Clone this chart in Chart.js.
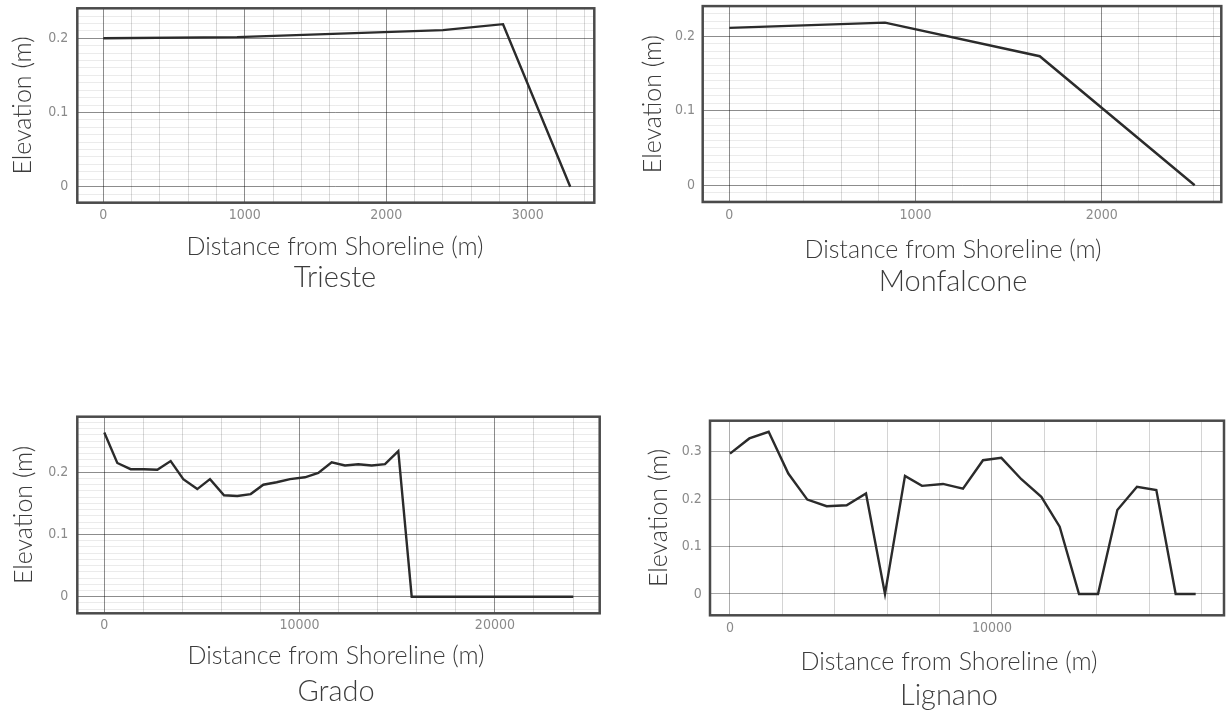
<!DOCTYPE html>
<html>
<head>
<meta charset="utf-8">
<title>Elevation profiles</title>
<script src="https://cdn.jsdelivr.net/npm/chart.js@4.4.1/dist/chart.umd.min.js"></script>
<style>
  html, body { margin: 0; padding: 0; background: #fff; overflow: hidden; }
  body { width: 1226px; height: 715px; position: relative; }
  canvas { position: absolute; }
</style>
</head>
<body>
<script>
// values (distance from shoreline in m, elevation in m)
const triesteDistance = [0, 945, 2400, 2825, 3300];
const triesteElevation = [0.200, 0.2015, 0.211, 0.219, 0];

const monfalconeDistance = [0, 836, 1667, 2499];
const monfalconeElevation = [0.211, 0.218, 0.173, 0];

const gradoDistance = [0, 666, 1350, 2033, 2714, 3398, 4045, 4762, 5412, 6129, 6810, 7496, 8141,
  8827, 9508, 10276, 10957, 11643, 12325, 13006, 13691, 14373, 15054, 15740, 24014];
const gradoElevation = [0.264, 0.215, 0.205, 0.205, 0.204, 0.218, 0.189, 0.173, 0.189, 0.163, 0.162, 0.165, 0.180,
  0.184, 0.189, 0.192, 0.199, 0.216, 0.211, 0.213, 0.211, 0.213, 0.234, 0, 0];

const lignanoDistance = [0, 738, 1476, 2226, 2951, 3689, 4453, 5191, 5916, 6679, 7328, 8130, 8893,
  9657, 10356, 11120, 11883, 12583, 13321, 14046, 14784, 15534, 16272, 17010, 17774];
const lignanoElevation = [0.296, 0.328, 0.342, 0.254, 0.199, 0.185, 0.187, 0.212, 0, 0.249, 0.228, 0.232, 0.222,
  0.282, 0.287, 0.242, 0.205, 0.142, 0, 0, 0.177, 0.226, 0.219, 0, 0];

// labelled ticks
const triesteDistanceTicks = [0, 1000, 2000, 3000];
const monfalconeDistanceTicks = [0, 1000, 2000];
const gradoDistanceTicks = [0, 10000, 20000];
const lignanoDistanceTicks = [0, 10000];
const elevationTicks = [0, 0.1, 0.2];
const lignanoElevationTicks = [0, 0.1, 0.2, 0.3];

const TEXT_FONT = "Lato, 'Open Sans', sans-serif";
const TICK_FONT = "'DejaVu Sans Condensed', 'DejaVu Sans', sans-serif";
const TEXT_COLOR = '#3c3c3c';
const TICK_COLOR = '#8a8a8a';

function near(list, v) {
  return list.find(l => Math.abs(l - v) < 1e-6);
}

// ticks on every multiple of the step inside the axis range
function stepTicks(min, max, step) {
  const out = [];
  for (let k = Math.ceil(min / step - 1e-9); k * step <= max + 1e-9; k++) {
    out.push({ value: Math.round(k * step * 1e6) / 1e6 });
  }
  return out;
}

// dark frame round the plot area
const framePlugin = {
  id: 'frame',
  afterDatasetsDraw(chart) {
    const a = chart.chartArea, ctx = chart.ctx;
    ctx.save();
    ctx.strokeStyle = '#4a4a4a';
    ctx.lineWidth = 2.5;
    ctx.strokeRect(a.left, a.top, a.right - a.left, a.bottom - a.top);
    ctx.restore();
  }
};

function drawProfile(p) {
  const tickSize = 14, tickLH = tickSize * 1.2;
  const axisSize = 25, axisLH = axisSize * 1.2;
  const nameSize = 29, nameLH = nameSize * 1.2;
  const a = p.area;

  // work out the boxes so the plot area lands where the figure has it
  const titleSpan = 2 * (p.centerX - p.left);       // titles are centred on this span
  const extraRight = titleSpan - (a.right - p.left); // empty box right of the plot
  const W = Math.ceil(titleSpan) + 2;
  const padR = W - titleSpan;
  const hx = p.tickY + tickLH / 2 + 2 - a.bottom;
  const tickPad = p.tickY - a.bottom - tickLH / 2;
  const subPad = p.axisTitleY - (a.bottom + hx) - axisLH / 2;
  const subBottom = a.bottom + hx + subPad + axisLH;
  const namePad = p.nameY - subBottom - nameLH / 2;
  const used = subBottom + namePad + nameLH - p.top;
  const H = Math.ceil(used) + 4;
  const padB = H - used;
  const yWidth = a.left - p.left;
  const yTitlePad = (p.yTitleX - p.left) - axisLH / 2;

  const canvas = document.createElement('canvas');
  canvas.width = W;
  canvas.height = H;
  canvas.style.left = p.left + 'px';
  canvas.style.top = p.top + 'px';
  document.body.appendChild(canvas);

  new Chart(canvas.getContext('2d'), {
    type: 'line',
    data: {
      datasets: [{
        data: p.xs.map((x, i) => ({ x: x, y: p.ys[i] })),
        borderColor: '#2b2b2b',
        borderWidth: 2.4,
        pointRadius: 0,
        fill: false,
        tension: 0
      }]
    },
    options: {
      responsive: false,
      animation: false,
      layout: { padding: { left: 0, right: padR, top: a.top - p.top, bottom: padB } },
      scales: {
        x: {
          type: 'linear',
          min: p.xMin,
          max: p.xMax,
          border: { display: false },
          grid: {
            drawTicks: false,
            color: c => (c.tick && near(p.xLabels, c.tick.value) !== undefined) ? p.xMajor : p.xMinor
          },
          ticks: {
            autoSkip: false,
            maxRotation: 0,
            padding: tickPad,
            color: TICK_COLOR,
            font: { family: TICK_FONT, size: tickSize },
            callback: v => { const l = near(p.xLabels, v); return l === undefined ? '' : String(l); }
          },
          afterBuildTicks: s => { s.ticks = stepTicks(s.min, s.max, p.xStep); },
          afterFit: s => { s.height = hx; }
        },
        y: {
          type: 'linear',
          min: p.yMin,
          max: p.yMax,
          border: { display: false },
          grid: {
            drawTicks: false,
            color: c => (c.tick && near(p.yLabels, c.tick.value) !== undefined) ? p.yMajor : p.yMinor
          },
          ticks: {
            autoSkip: false,
            padding: a.left - p.yTickRight,
            color: TICK_COLOR,
            font: { family: TICK_FONT, size: tickSize },
            callback: v => { const l = near(p.yLabels, v); return l === undefined ? '' : String(l); }
          },
          afterBuildTicks: s => { s.ticks = stepTicks(s.min, s.max, p.yStep); },
          title: {
            display: true,
            text: 'Elevation (m)',
            color: TEXT_COLOR,
            font: { family: TEXT_FONT, size: axisSize, weight: '300' },
            padding: { top: yTitlePad, bottom: 0 }
          },
          afterFit: s => { s.width = yWidth; }
        },
        spacer: {
          axis: 'y',
          position: 'right',
          border: { display: false },
          grid: { display: false },
          ticks: { display: false },
          afterFit: s => { s.width = extraRight; }
        }
      },
      plugins: {
        legend: { display: false },
        tooltip: { enabled: false },
        subtitle: {
          display: true,
          position: 'bottom',
          text: 'Distance from Shoreline (m)',
          color: TEXT_COLOR,
          font: { family: TEXT_FONT, size: axisSize, weight: '300' },
          padding: { top: subPad, bottom: 0 }
        },
        title: {
          display: true,
          position: 'bottom',
          text: p.name,
          color: TEXT_COLOR,
          font: { family: TEXT_FONT, size: nameSize, weight: '300' },
          padding: { top: namePad, bottom: 0 }
        }
      }
    },
    plugins: [framePlugin]
  });
}

const fineGrid = {
  xMajor: 'rgba(0,0,0,0.45)', xMinor: 'rgba(0,0,0,0.15)',
  yMajor: 'rgba(0,0,0,0.45)', yMinor: 'rgba(0,0,0,0.08)'
};

drawProfile(Object.assign({
  name: 'Trieste', xs: triesteDistance, ys: triesteElevation,
  xLabels: triesteDistanceTicks, yLabels: elevationTicks,
  left: 0, top: -10, area: { left: 77.3, top: 8.3, right: 594.3, bottom: 202.7 },
  xMin: -184, xMax: 3470, yMin: -0.0216, yMax: 0.2404, xStep: 200, yStep: 0.01,
  tickY: 215.5, yTickRight: 68.3, axisTitleY: 246.5, nameY: 278, yTitleX: 23, centerX: 335
}, fineGrid));

drawProfile(Object.assign({
  name: 'Monfalcone', xs: monfalconeDistance, ys: monfalconeElevation,
  xLabels: monfalconeDistanceTicks, yLabels: elevationTicks,
  left: 610, top: -10, area: { left: 702.7, top: 6, right: 1221.3, bottom: 202 },
  xMin: -143, xMax: 2642, yMin: -0.0224, yMax: 0.2402, xStep: 200, yStep: 0.01,
  tickY: 215, yTickRight: 695, axisTitleY: 249.5, nameY: 282, yTitleX: 652.5, centerX: 953
}, fineGrid));

drawProfile(Object.assign({
  name: 'Grado', xs: gradoDistance, ys: gradoElevation,
  xLabels: gradoDistanceTicks, yLabels: elevationTicks,
  left: 0, top: 390, area: { left: 77.3, top: 416.7, right: 599.7, bottom: 613.3 },
  xMin: -1382, xMax: 25366, yMin: -0.0267, yMax: 0.2894, xStep: 2000, yStep: 0.01,
  tickY: 625, yTickRight: 68.3, axisTitleY: 656, nameY: 692, yTitleX: 24, centerX: 336
}, fineGrid));

drawProfile({
  name: 'Lignano', xs: lignanoDistance, ys: lignanoElevation,
  xLabels: lignanoDistanceTicks, yLabels: lignanoElevationTicks,
  left: 610, top: 390, area: { left: 710, top: 420.7, right: 1224, bottom: 615.3 },
  xMin: -763, xMax: 18855, yMin: -0.045, yMax: 0.3654, xStep: 2000, yStep: 0.1,
  tickY: 628, yTickRight: 701.7, axisTitleY: 662, nameY: 696, yTitleX: 659, centerX: 949,
  xMajor: 'rgba(0,0,0,0.32)', xMinor: 'rgba(0,0,0,0.17)', yMajor: 'rgba(0,0,0,0.35)', yMinor: 'rgba(0,0,0,0.35)'
});
</script>
</body>
</html>
